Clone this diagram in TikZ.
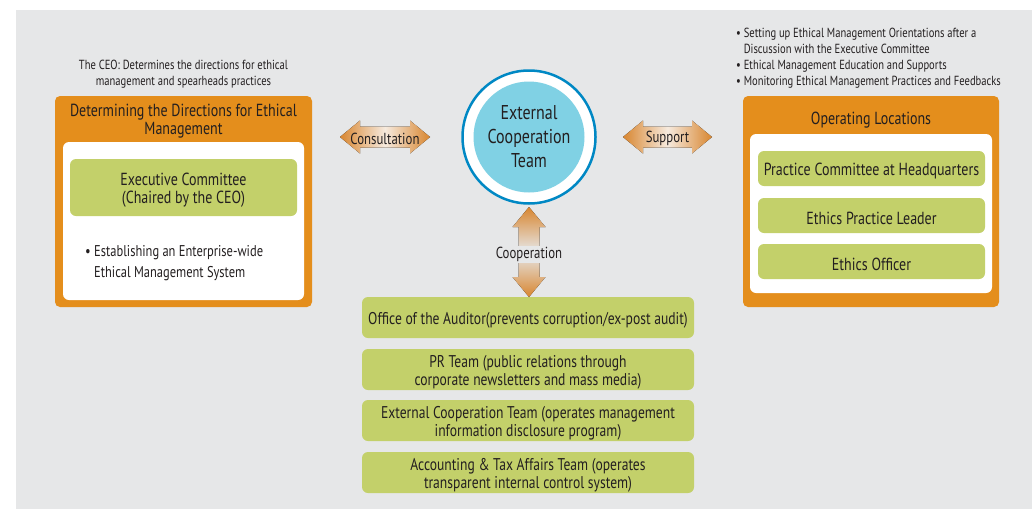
\documentclass[tikz,border=0pt]{standalone}
\usepackage{fontspec}
\setmainfont[FakeStretch=0.8]{PT Sans}
\usetikzlibrary{calc}
\definecolor{bg}{RGB}{230,231,232}
\definecolor{orng}{RGB}{228,142,28}
\definecolor{grn}{RGB}{195,208,106}
\definecolor{ringblue}{RGB}{0,136,196}
\definecolor{ltblue}{RGB}{128,209,228}
\definecolor{txt}{RGB}{35,31,32}
\definecolor{arr}{RGB}{216,134,48}
\definecolor{arrl}{RGB}{246,234,222}
\tikzset{
  panel/.style={fill=orng, rounded corners=5pt, inner sep=0pt},
  inner/.style={fill=white, rounded corners=6pt, inner sep=0pt},
  gtxt/.style={text=txt, align=center, inner sep=0pt, yshift=-3pt, font=\fontsize{17.5}{18}\selectfont},
  btxt/.style={gtxt, font=\fontsize{17}{18}\selectfont},
  gbox/.style={fill=grn, rounded corners=6pt, inner sep=0pt, label={[gtxt]center:{#1}}},
  bbox/.style={fill=grn, rounded corners=6pt, inner sep=0pt, minimum width=332, minimum height=41,
    label={[btxt]center:{#1}}},
  ttl/.style={text=txt, align=center, inner sep=0pt, yshift=-2pt, font=\fontsize{17.5}{18.5}\selectfont},
  small/.style={text=txt, inner sep=0pt, yshift=-1pt, font=\fontsize{13.2}{16}\selectfont},
  albl/.style={text=txt, inner sep=0pt, yshift=-1.5pt, font=\fontsize{16}{18}\selectfont},
}
\begin{document}
\begin{tikzpicture}[x=1pt,y=-1pt]
\useasboundingbox (0,0) rectangle (1032,509);
\fill[bg] (16,10) rectangle (1032,509);

% left panel
\node[panel, minimum width=257, minimum height=211] (lbox) at (183.5,201.5) {};
\node[inner, minimum width=241, minimum height=158] (lwhite) at (183.5,221) {};
\node[gbox={Executive Committee\\(Chaired by the CEO)}, minimum width=227, minimum height=57] (exec) at (183.5,187.5) {};
\node[ttl] (ltitle) at (183.5,119) {Determining the Directions for Ethical\\Management};
\node[ttl, anchor=west, align=left, yshift=-1pt, font=\fontsize{15.6}{20.5}\selectfont] (lbullet) at (85,260) {\textbullet\ Establishing an Enterprise-wide\\\phantom{\textbullet\ }Ethical Management System};
\node[small, align=center] (ceo) at (183.5,73) {The CEO: Determines the directions for ethical\\management and spearheads practices};

% circle
\node[circle, draw=ringblue, line width=2.5pt, fill=white, minimum size=133, inner sep=0pt] (ring) at (529,137) {};
\node[circle, fill=ltblue, minimum size=111, inner sep=0pt, text=txt, align=center,
  font=\fontsize{20}{24}\selectfont] (ect) at (529,137) {External\\Cooperation\\Team};

% right panel
\node[panel, minimum width=256, minimum height=211] (rbox) at (871,201.5) {};
\node[inner, minimum width=242, minimum height=159] (rwhite) at (871,213.5) {};
\node[ttl] (rtitle) at (871,118) {Operating Locations};
\node[gbox={Practice Committee at Headquarters}, minimum width=227, minimum height=35] (pc) at (871.5,168.5) {};
\node[gbox={Ethics Practice Leader}, minimum width=227, minimum height=35] (epl) at (871.5,215.5) {};
\node[gbox={Ethics Officer}, minimum width=227, minimum height=35] (eo) at (871.5,261.5) {};
\node[small, anchor=west, align=left] (rlist) at (736,57) {\textbullet\ Setting up Ethical Management Orientations after a\\
\phantom{\textbullet\ }Discussion with the Executive Committee\\
\textbullet\ Ethical Management Education and Supports\\
\textbullet\ Monitoring Ethical Management Practices and Feedbacks};

% bottom boxes
\node[bbox={Office of the Auditor(prevents corruption/ex-post audit)}] (aud) at (528,317.5) {};
\node[bbox={PR Team (public relations through\\corporate newsletters and mass media)}] (pr) at (528,369.5) {};
\node[bbox={External Cooperation Team (operates management\\information disclosure program)}] (ext) at (528,420.5) {};
\node[bbox={Accounting \& Tax Affairs Team (operates\\transparent internal control system)}] (acc) at (528,472.5) {};

% consultation arrow
\coordinate (c1) at (340,137);
\coordinate (c2) at (430,137);
\fill[left color=arr, right color=arr, middle color=arrl]
  (c1) -- ($(c1)+(20,-16.5)$) -- ($(c1)+(20,-10.5)$) -- ($(c2)+(-20,-10.5)$) -- ($(c2)+(-20,-16.5)$) -- (c2)
  -- ($(c2)+(-20,16.5)$) -- ($(c2)+(-20,10.5)$) -- ($(c1)+(20,10.5)$) -- ($(c1)+(20,16.5)$) -- cycle;
\node[albl] (cons) at ($(c1)!0.5!(c2)$) {Consultation};

% support arrow
\coordinate (s1) at (623,137);
\coordinate (s2) at (712,137);
\fill[left color=arr, right color=arr, middle color=arrl]
  (s1) -- ($(s1)+(20,-16.5)$) -- ($(s1)+(20,-10.5)$) -- ($(s2)+(-20,-10.5)$) -- ($(s2)+(-20,-16.5)$) -- (s2)
  -- ($(s2)+(-20,16.5)$) -- ($(s2)+(-20,10.5)$) -- ($(s1)+(20,10.5)$) -- ($(s1)+(20,16.5)$) -- cycle;
\node[albl] (sup) at ($(s1)!0.5!(s2)$) {Support};

% cooperation arrow
\coordinate (v1) at (529,207);
\coordinate (v2) at (529,297);
\fill[top color=arr, bottom color=arr, middle color=bg]
  (v1) -- ($(v1)+(16.5,20)$) -- ($(v1)+(10.5,20)$) -- ($(v2)+(10.5,-20)$) -- ($(v2)+(16.5,-20)$) -- (v2)
  -- ($(v2)+(-16.5,-20)$) -- ($(v2)+(-10.5,-20)$) -- ($(v1)+(-10.5,20)$) -- ($(v1)+(-16.5,20)$) -- cycle;
\node[albl, fill=bg, inner sep=1pt] (coop) at (529,253) {Cooperation};
\end{tikzpicture}
\end{document}
